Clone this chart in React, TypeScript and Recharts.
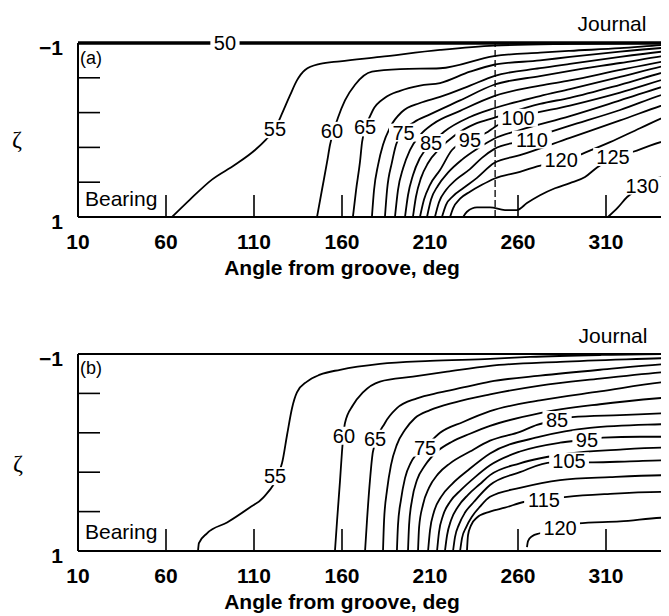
import React from 'react';
import { LineChart, Line, XAxis, YAxis, ReferenceLine, ReferenceDot } from 'recharts';

type Pt = [number, number];
type Tag = [string, number, number];

const angleTicks = [10, 60, 110, 160, 210, 260, 310];
const angleMarks = [60, 110, 160, 260, 310];
const zetaTicks = [-1, -0.6, -0.2, 0.2, 0.6, 1];
const grooveAngle = 247;

// (a) contours, [angle, zeta]
const a50: Pt[] = [[10, -1], [360, -1]];
const a55: Pt[] = [[63.4, 1], [73.6, 0.8], [86.1, 0.57], [99.2, 0.4], [110.6, 0.23], [116.8, 0.11], [121.9, -0.01], [125.3, -0.16], [130.5, -0.4], [134.4, -0.57], [139, -0.69], [147.5, -0.76], [158.9, -0.79], [181.6, -0.84], [215.7, -0.92], [246.4, -0.97], [289.5, -0.99], [345.8, -1], [360, -1]];
const a60: Pt[] = [[145.8, 1], [148.6, 0.69], [151.5, 0.37], [153.2, 0.17], [157.7, -0.14], [161.7, -0.34], [167.4, -0.52], [177, -0.67], [193, -0.7], [215.7, -0.71], [246.4, -0.85], [272.5, -0.89], [289.5, -0.91], [318, -0.94], [345.8, -0.98], [360, -0.99]];
const a65: Pt[] = [[166.2, 1], [168, 0.69], [170.2, 0.37], [171.4, 0.14], [173.5, -0.03], [177.6, -0.23], [184.4, -0.37], [193, -0.45], [204.3, -0.51], [215.7, -0.54], [232.7, -0.67], [246.4, -0.75], [272.5, -0.8], [289.5, -0.84], [318, -0.9], [345.8, -0.95], [360, -0.97]];
const a70: Pt[] = [[177, 1], [178.2, 0.69], [180.5, 0.4], [183.3, 0.17], [187.3, -0.03], [194.1, -0.21], [204.3, -0.31], [215.7, -0.38], [232.7, -0.51], [246.4, -0.62], [272.5, -0.71], [289.5, -0.76], [318, -0.84], [345.8, -0.91], [360, -0.94]];
const a75: Pt[] = [[184.4, 1], [185.6, 0.69], [188.4, 0.37], [190.7, 0.17], [194.1, 0.03], [200.9, -0.09], [210, -0.18], [227.1, -0.34], [246.4, -0.52], [272.5, -0.62], [289.5, -0.68], [318, -0.77], [345.8, -0.86], [360, -0.9]];
const a80: Pt[] = [[190.1, 1], [191.8, 0.69], [194.7, 0.44], [198.6, 0.23], [204.3, 0.06], [211.7, -0.07], [227.1, -0.22], [246.4, -0.39], [272.5, -0.51], [289.5, -0.57], [318, -0.69], [345.8, -0.8], [360, -0.85]];
const a85: Pt[] = [[195.8, 1], [197.5, 0.75], [200.3, 0.52], [204.3, 0.32], [211.1, 0.15], [218, 0.02], [232.7, -0.15], [246.4, -0.25], [272.5, -0.39], [289.5, -0.47], [318, -0.61], [345.8, -0.75], [360, -0.81]];
const a90: Pt[] = [[200.3, 1], [202, 0.77], [204.9, 0.55], [208.9, 0.38], [215.7, 0.21], [224.2, 0.06], [235.6, -0.07], [246.4, -0.14], [272.5, -0.3], [289.5, -0.37], [318, -0.52], [345.8, -0.68], [360, -0.75]];
const a95: Pt[] = [[204.3, 1], [206.6, 0.8], [210, 0.63], [215.7, 0.46], [222.5, 0.23], [232.7, 0.11], [243, 0.02], [246.4, -0.03], [260, -0.14], [289.5, -0.28], [318, -0.43], [345.8, -0.6], [360, -0.68]];
const a100: Pt[] = [[208.3, 1], [210.6, 0.8], [214.5, 0.64], [220.2, 0.49], [228.2, 0.34], [237.3, 0.21], [246.4, 0.1], [261.1, 0], [289.5, -0.16], [318, -0.34], [345.8, -0.52], [360, -0.6]];
const a105: Pt[] = [[212.8, 1], [215.1, 0.83], [219.1, 0.69], [224.8, 0.57], [232.7, 0.45], [239.5, 0.32], [246.4, 0.22], [261.1, 0.13], [289.5, -0.05], [318, -0.23], [345.8, -0.43], [360, -0.5]];
const a110: Pt[] = [[216.8, 1], [219.1, 0.86], [223.1, 0.76], [228.8, 0.67], [236.7, 0.55], [246.4, 0.38], [261.1, 0.29], [289.5, 0.09], [318, -0.11], [345.8, -0.31], [360, -0.4]];
const a120: Pt[] = [[221.4, 1], [223.1, 0.9], [227.1, 0.79], [232.7, 0.71], [239.5, 0.63], [246.4, 0.56], [261.1, 0.48], [274.2, 0.4], [285.6, 0.36], [298.1, 0.26], [312.3, 0.14], [329.3, -0.02], [345.8, -0.17], [360, -0.25]];
const a125: Pt[] = [[228.8, 1], [231, 0.94], [236.7, 0.89], [244.1, 0.89], [252.6, 0.92], [259.4, 0.92], [265.1, 0.84], [272.5, 0.75], [281, 0.67], [289.5, 0.61], [298.1, 0.54], [304.9, 0.43], [314, 0.32], [325.4, 0.25], [335, 0.18], [345.8, 0.11], [360, 0.03]];
const a130: Pt[] = [[311.1, 1], [316.8, 0.89], [322, 0.77], [330.5, 0.66], [339.5, 0.55], [345.8, 0.53], [360, 0.52]];
const aTags: Tag[] = [['50', 93.5, -1], ['55', 121.9, -0.01], ['60', 154.3, 0.01], ['65', 173.1, -0.03], ['75', 195, 0.03], ['85', 210.6, 0.15], ['95', 232.7, 0.11], ['100', 260, -0.14], ['110', 267.9, 0.11], ['120', 284.5, 0.35], ['125', 314, 0.31], ['130', 330.5, 0.64]];

// (b) contours
const b50: Pt[] = [[10, -1], [360, -1]];
const b55: Pt[] = [[78.2, 1], [78.7, 0.92], [83.3, 0.82], [94.7, 0.71], [107.4, 0.56], [115.1, 0.46], [125.9, 0.11], [128.8, -0.18], [131.6, -0.45], [134.4, -0.61], [140.1, -0.72], [147.5, -0.79], [158.9, -0.84], [181.6, -0.9], [210, -0.93], [244.1, -0.95], [266.8, -0.97], [306.6, -0.99], [345.8, -1], [360, -1]];
const b60: Pt[] = [[156, 1], [157.2, 0.69], [158.9, 0.28], [160, -0.01], [161.7, -0.3], [166.2, -0.48], [171.9, -0.61], [181.6, -0.72], [200.3, -0.77], [219.7, -0.82], [244.1, -0.88], [283.9, -0.92], [345.8, -0.96], [360, -0.97]];
const b65: Pt[] = [[173.1, 1], [174.2, 0.69], [175.9, 0.28], [177.6, -0.01], [184.4, -0.3], [191.2, -0.45], [202.6, -0.55], [215.7, -0.61], [228.8, -0.66], [244.1, -0.72], [272.5, -0.78], [306.6, -0.84], [345.8, -0.9], [360, -0.91]];
const b70: Pt[] = [[183.3, 1], [183.9, 0.69], [185.6, 0.38], [187.8, 0.13], [191.2, -0.08], [195.8, -0.23], [201.5, -0.35], [210, -0.43], [224.2, -0.51], [244.1, -0.59], [272.5, -0.68], [306.6, -0.75], [345.8, -0.82], [360, -0.84]];
const b75: Pt[] = [[191.2, 1], [191.8, 0.74], [193.5, 0.48], [195.8, 0.26], [199.2, 0.1], [207.2, -0.05], [215.7, -0.2], [228.8, -0.31], [244.1, -0.42], [272.5, -0.53], [306.6, -0.62], [345.8, -0.72], [360, -0.74]];
const b80: Pt[] = [[197.5, 1], [198.1, 0.74], [199.8, 0.48], [202.6, 0.28], [207.2, 0.13], [214, -0.01], [222.5, -0.11], [232.7, -0.19], [244.1, -0.27], [272.5, -0.4], [306.6, -0.49], [345.8, -0.56], [360, -0.58]];
const b85: Pt[] = [[203.2, 1], [203.8, 0.76], [206, 0.53], [209.4, 0.36], [214.5, 0.22], [221.4, 0.11], [232.7, -0.01], [244.1, -0.12], [261.1, -0.21], [270.8, -0.28], [282.2, -0.33], [290.7, -0.36], [318, -0.38], [345.8, -0.4], [360, -0.41]];
const b90: Pt[] = [[208.9, 1], [210, 0.79], [212.3, 0.6], [216.3, 0.45], [222.5, 0.32], [231.6, 0.18], [244.1, 0.01], [272.5, -0.16], [300.9, -0.25], [345.8, -0.29], [360, -0.3]];
const b95: Pt[] = [[214, 1], [215.1, 0.81], [217.4, 0.64], [221.4, 0.5], [227.6, 0.38], [235.6, 0.25], [244.1, 0.13], [261.1, -0.01], [283.9, -0.1], [299.2, -0.13], [308.3, -0.15], [329.3, -0.16], [345.8, -0.16], [360, -0.16]];
const b100: Pt[] = [[218.5, 1], [219.7, 0.84], [221.9, 0.69], [225.9, 0.55], [231.6, 0.43], [238.4, 0.32], [244.1, 0.23], [261.1, 0.11], [289, 0.01], [318, -0.03], [345.8, -0.05], [360, -0.05]];
const b105: Pt[] = [[223.1, 1], [224.2, 0.86], [226.5, 0.73], [229.9, 0.61], [235, 0.5], [244.1, 0.33], [261.1, 0.2], [279.3, 0.1], [289, 0.1], [302.6, 0.1], [323.6, 0.09], [345.8, 0.08], [360, 0.08]];
const b110: Pt[] = [[227.1, 1], [228.2, 0.87], [230.5, 0.76], [233.9, 0.65], [238.4, 0.55], [244.1, 0.45], [261.1, 0.36], [283.9, 0.28], [312.3, 0.25], [345.8, 0.23], [360, 0.23]];
const b115: Pt[] = [[231, 1], [231.6, 0.84], [233.3, 0.74], [236.7, 0.66], [244.1, 0.6], [252.6, 0.56], [263.9, 0.5], [274.8, 0.48], [287.8, 0.45], [312.3, 0.42], [345.8, 0.4], [360, 0.4]];
const b120: Pt[] = [[265.1, 0.96], [265.7, 0.9], [268, 0.85], [272.5, 0.82], [283.9, 0.77], [294.1, 0.72], [318, 0.7], [345.8, 0.66], [360, 0.66]];
const bTags: Tag[] = [['55', 122, 0.24], ['60', 161.1, -0.17], ['65', 178.8, -0.14], ['75', 207.2, -0.05], ['85', 282.2, -0.33], ['95', 299.2, -0.13], ['105', 289, 0.09], ['115', 274.8, 0.48], ['120', 283.9, 0.77]];

const panelA = [a50, a55, a60, a65, a70, a75, a80, a85, a90, a95, a100, a105, a110, a120, a125, a130];
const panelB = [b50, b55, b60, b65, b70, b75, b80, b85, b90, b95, b100, b105, b110, b115, b120];

const SANS = '"Liberation Sans", Arial, Helvetica, sans-serif';

const AngleTick = (props: any) => {
  const { x, y, payload } = props;
  return (
    <g>
      {angleMarks.includes(payload.value) && (
        <line x1={x} y1={y} x2={x} y2={y - 22} stroke="#000" strokeWidth={1.6} />
      )}
      <text x={x} y={y + 32} textAnchor="middle" fontFamily={SANS} fontWeight="bold" fontSize={21} fill="#000">
        {payload.value}
      </text>
    </g>
  );
};

const ZetaTick = (props: any) => {
  const { x, y, payload } = props;
  const v = payload.value;
  if (Math.abs(v) === 1) {
    return (
      <text x={x - 15} y={y + 12} textAnchor="end" fontFamily={SANS} fontWeight="bold" fontSize={21} fill="#000">
        {v < 0 ? '\u22121' : '1'}
      </text>
    );
  }
  return <line x1={x} y1={y} x2={x + 22} y2={y} stroke="#000" strokeWidth={1.6} />;
};

const tagShape = (text: string) => (p: any) => {
  const w = text.length * 10.6 + 8;
  return (
    <g>
      <rect x={p.cx - w / 2} y={p.cy - 9} width={w} height={18} fill="#fff" />
      <text x={p.cx} y={p.cy + 7} textAnchor="middle" fontFamily={SANS} fontSize={20} fill="#000">
        {text}
      </text>
    </g>
  );
};

const Panel = ({ lines, tags, height, top, bottom, topWidth, groove }: any) => (
  <LineChart width={700} height={height} margin={{ top, right: 14, bottom: 0, left: 0 }}>
    <XAxis
      type="number"
      dataKey="angle"
      domain={[10, 360]}
      ticks={angleTicks}
      interval={0}
      tick={AngleTick}
      tickLine={false}
      tickSize={0}
      tickMargin={0}
      height={bottom}
      axisLine={{ stroke: '#000', strokeWidth: 2 }}
    />
    <YAxis
      type="number"
      domain={[-1, 1]}
      reversed
      ticks={zetaTicks}
      interval={0}
      tick={ZetaTick}
      tickLine={false}
      tickSize={0}
      tickMargin={0}
      width={70}
      axisLine={{ stroke: '#000', strokeWidth: 2 }}
    />
    {groove && <ReferenceLine x={groove} stroke="#000" strokeWidth={1.3} strokeDasharray="7 3" />}
    {lines.map((pts: Pt[], i: number) => (
      <Line
        key={i}
        data={pts.map(([angle, zeta]) => ({ angle, zeta }))}
        dataKey="zeta"
        type="monotone"
        stroke="#000"
        strokeWidth={i === 0 ? topWidth : 1.8}
        dot={false}
        activeDot={false}
        isAnimationActive={false}
      />
    ))}
    {tags.map(([t, a, z]: Tag) => (
      <ReferenceDot key={t} x={a} y={z} r={0} shape={tagShape(t)} />
    ))}
  </LineChart>
);

export default function App() {
  return (
    <div style={{ position: 'relative', width: 661, height: 608, overflow: 'hidden', background: '#fff' }}>
      <Panel lines={panelA} tags={aTags} height={279} top={35} bottom={70} topWidth={3.5} groove={grooveAngle} />
      <Panel lines={panelB} tags={bTags} height={324} top={67} bottom={60} topWidth={2.2} />
      <svg width={661} height={608} style={{ position: 'absolute', left: 0, top: 0, pointerEvents: 'none' }}>
        <g fontFamily={SANS} fill="#000">
          <text x={604} y={23} textAnchor="middle" fontSize={21}>Journal</text>
          <text x={605} y={335} textAnchor="middle" fontSize={21}>Journal</text>
          <text x={77} y={198} fontSize={21}>Bearing</text>
          <text x={77} y={531} fontSize={21}>Bearing</text>
          <text x={72} y={56} fontSize={18}>(a)</text>
          <text x={72} y={366} fontSize={18}>(b)</text>
          <text x={334} y={267} textAnchor="middle" fontSize={21} fontWeight="bold">Angle from groove, deg</text>
          <text x={334} y={601} textAnchor="middle" fontSize={21} fontWeight="bold">Angle from groove, deg</text>
        </g>
        <g fontFamily='"Liberation Serif", "DejaVu Serif", serif' fontSize={24} fill="#000">
          <text x={9} y={139} textAnchor="middle">ζ</text>
          <text x={10} y={463} textAnchor="middle">ζ</text>
        </g>
      </svg>
    </div>
  );
}
